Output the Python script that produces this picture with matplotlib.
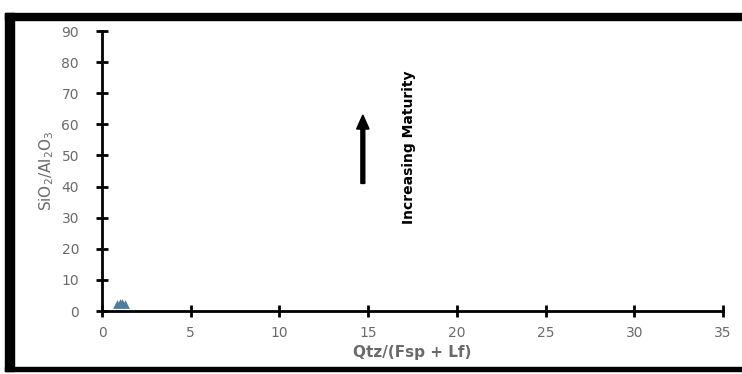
import matplotlib
matplotlib.use("Agg")
import matplotlib.pyplot as plt
from matplotlib.patches import Rectangle

# data
ratio_x = [0.85, 1.0, 1.15, 1.3]    # Qtz/(Fsp + Lf)
ratio_y = [2.4, 2.6, 2.6, 2.4]      # SiO2/Al2O3
xticks = [0, 5, 10, 15, 20, 25, 30, 35]
yticks = [0, 10, 20, 30, 40, 50, 60, 70, 80, 90]

grey = "#6a6a6a"

fig = plt.figure(figsize=(7.42, 3.74), dpi=100)
ax = fig.add_axes([0.1375, 0.1684, 0.8369, 0.7486])

ax.scatter(ratio_x, ratio_y, marker="^", s=40, color="#4f7c9c", zorder=3, linewidths=0)

ax.set_xlim(0, 35)
ax.set_ylim(0, 90)
ax.set_xticks(xticks)
ax.set_yticks(yticks)

for s in ["top", "right"]:
    ax.spines[s].set_visible(False)
for s in ["left", "bottom"]:
    ax.spines[s].set_linewidth(2)
ax.tick_params(direction="inout", length=9, width=2, colors="black",
               labelcolor=grey, labelsize=10)
ax.tick_params(axis="y", pad=12)
ax.tick_params(axis="x", pad=6)

ax.set_xlabel("Qtz/(Fsp + Lf)", color=grey, fontsize=11, fontweight="bold", labelpad=4)
ax.set_ylabel("SiO$_2$/Al$_2$O$_3$", color=grey, fontsize=11, labelpad=4)

# arrow and label
ax.arrow(14.7, 41, 0, 17.5, width=0.22, head_width=0.7, head_length=4.5,
         length_includes_head=False, color="black")
ax.text(17.3, 52.5, "Increasing Maturity", rotation=90, ha="center", va="center",
        fontsize=10, fontweight="bold")

# thick frame round the figure
fw, fh = 742.0, 374.0
fig.patches.append(Rectangle((5 / fw, 1 - 20 / fh), 737 / fw, 7 / fh,
                             transform=fig.transFigure, color="black"))
fig.patches.append(Rectangle((5 / fw, 1 - 371 / fh), 9 / fw, 358 / fh,
                             transform=fig.transFigure, color="black"))
fig.patches.append(Rectangle((5 / fw, 1 - 371 / fh), 737 / fw, 4 / fh,
                             transform=fig.transFigure, color="black"))

fig.savefig("out.png", dpi=100)
